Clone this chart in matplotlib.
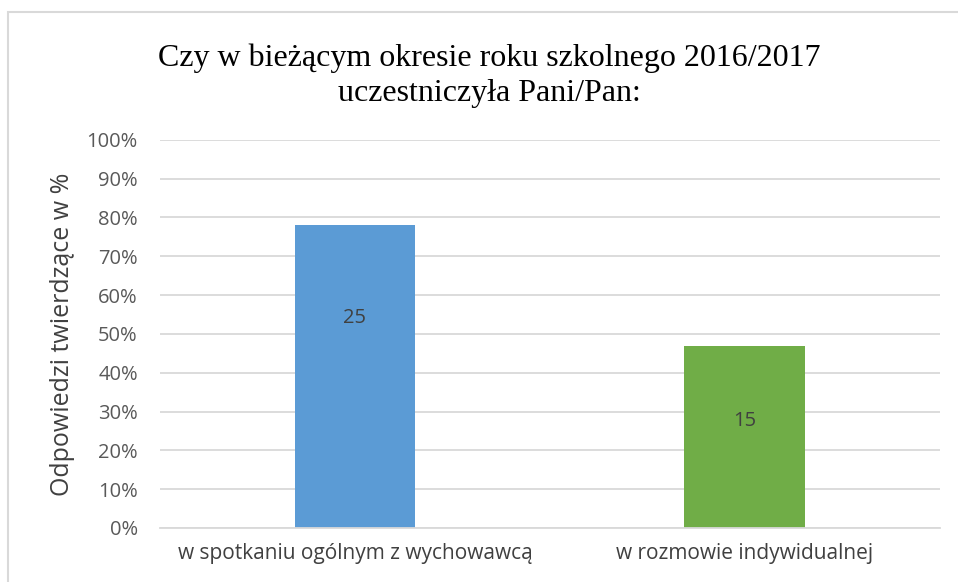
import matplotlib
matplotlib.use("Agg")
import matplotlib.pyplot as plt
from matplotlib.patches import Rectangle

categories = ["w spotkaniu ogólnym z wychowawcą", "w rozmowie indywidualnej"]
counts = [25, 15]
total = 32
percents = [c / total * 100 for c in counts]
colors = ["#5b9bd5", "#70ad47"]
yticks = list(range(0, 101, 10))
title = "Czy w bieżącym okresie roku szkolnego 2016/2017\nuczestniczyła Pani/Pan:"

fig = plt.figure(figsize=(9.58, 5.82), dpi=100)
ax = fig.add_axes([0.167, 0.0928, 0.814, 0.667])

x = range(len(categories))
ax.bar(x, percents, width=0.31, color=colors, zorder=2)

# data labels (positions as in the original chart)
label_y = [54, 27.5]
for i, c in enumerate(counts):
    ax.text(i, label_y[i], str(c), ha="center", va="center",
            fontsize=14.5, color="#404040", family="Open Sans")

ax.set_xlim(-0.5, 1.5)
ax.set_ylim(0, 100)
ax.set_yticks(yticks)
ax.set_yticklabels([f"{t}%" for t in yticks], family="Open Sans", fontsize=14.5, color="#595959")
ax.set_xticks(list(x))
ax.set_xticklabels(categories, family="Open Sans", fontsize=15, color="#404040")
ax.tick_params(axis="x", length=0, pad=11)
ax.tick_params(axis="y", length=0, pad=16)
ax.grid(axis="y", color="#d9d9d9", linewidth=1.3, zorder=0)
for s in ["top", "right", "left"]:
    ax.spines[s].set_visible(False)
ax.spines["bottom"].set_color("#d9d9d9")
ax.spines["bottom"].set_linewidth(1.3)
ax.set_ylabel("Odpowiedzi twierdzące w %", family="Open Sans", fontsize=18, color="#404040", labelpad=8)

fig.text(0.511, 0.87, title, ha="center", va="center", family="Liberation Serif",
         fontsize=23, color="black", linespacing=1.3)

# chart border
fig.patches.append(Rectangle((8 / 958, -0.1), 1.1, (582 - 12) / 582 + 0.1,
                             transform=fig.transFigure, fill=False,
                             edgecolor="#d9d9d9", linewidth=1.5))

fig.savefig("out.png", dpi=100)
